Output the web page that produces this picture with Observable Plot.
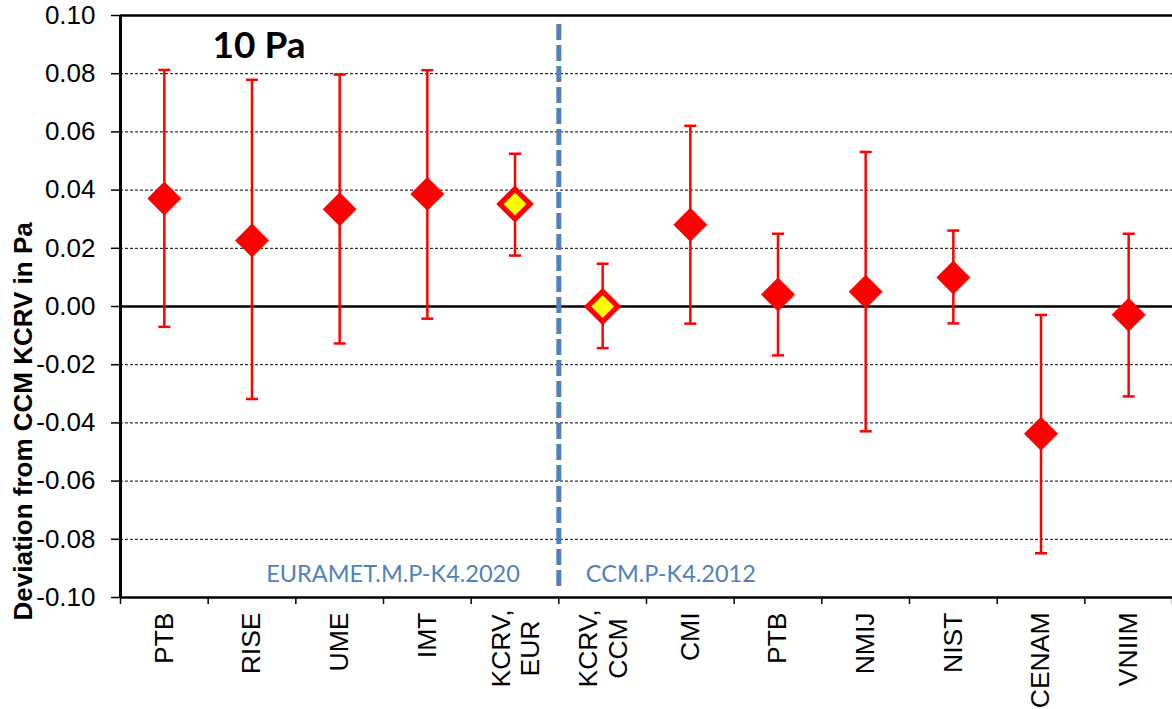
<!DOCTYPE html>
<html><head><meta charset="utf-8">
<script src="https://cdn.jsdelivr.net/npm/d3@7"></script>
<script src="https://cdn.jsdelivr.net/npm/@observablehq/plot@0.6"></script>
<style>body{margin:0;background:#fff;} svg{display:block}</style>
</head><body><div id="chart"></div>
<script>
// ---- data ----
const categories = ["PTB", "RISE", "UME", "IMT", "KCRV,\nEUR", "KCRV,\nCCM", "CMI", "PTB", "NMIJ", "NIST", "CENAM", "VNIIM"];
const groups = ["EURAMET", "EURAMET", "EURAMET", "EURAMET", "EURAMET", "CCM", "CCM", "CCM", "CCM", "CCM", "CCM", "CCM"];
const values = [0.0371, 0.0227, 0.0334, 0.0387, 0.0352, 0.0000, 0.0281, 0.0041, 0.0051, 0.0100, -0.0437, -0.0028];
const upper  = [0.0813, 0.0779, 0.0797, 0.0812, 0.0525, 0.0147, 0.0621, 0.0250, 0.0531, 0.0261, -0.0029, 0.0250];
const lower  = [-0.0070, -0.0318, -0.0127, -0.0042, 0.0175, -0.0143, -0.0059, -0.0168, -0.0429, -0.0058, -0.0848, -0.0309];
const isReference = [false, false, false, false, true, true, false, false, false, false, false, false];
const yTicks = [-0.10, -0.08, -0.06, -0.04, -0.02, 0.00, 0.02, 0.04, 0.06, 0.08, 0.10];
const groupLabels = ["EURAMET.M.P-K4.2020", "CCM.P-K4.2012"];
const panelTitle = "10 Pa";
const yTitle = "Deviation from CCM KCRV in Pa";

// ---- derived table ----
const data = categories.map((c, i) => ({
  pos: i + 0.5, label: c, value: values[i], hi: upper[i], lo: lower[i],
  ref: isReference[i], multi: c.includes("\n")
}));
const divider = groups.filter(g => g === groups[0]).length;
const [yMin, yMax] = d3.extent(yTicks);
const gridTicks = yTicks.filter(t => Math.abs(t) > 1e-9 && Math.abs(Math.abs(t) - yMax) > 1e-9);

const RED = "#FF0000", BLUE = "#4F81BD";
const capSymbol = { draw(ctx) { ctx.moveTo(-6, 0); ctx.lineTo(6, 0); } };

const chart = Plot.plot({
  width: 1172, height: 709,
  marginLeft: 120, marginRight: 0, marginTop: 15, marginBottom: 112,
  x: { domain: [0, categories.length], axis: null },
  y: { domain: [yMin, yMax], axis: null },
  style: { fontFamily: "'Liberation Sans', Arial, sans-serif", fontSize: "26px", color: "black", background: "white", overflow: "visible" },
  marks: [
    Plot.gridY(gridTicks, { stroke: "black", strokeOpacity: 1, strokeWidth: 1, strokeDasharray: "3,2" }),
    Plot.axisY({ ticks: yTicks, tickSize: 9, tickPadding: 16, tickFormat: d => d.toFixed(2), label: null, fontSize: 26, strokeWidth: 1.5 }),
    Plot.axisX({ ticks: d3.range(categories.length + 1), tickSize: 7, tickFormat: () => "", label: null, strokeWidth: 1.5 }),
    Plot.ruleY([yMin, yMax], { stroke: "black", strokeWidth: 2.5 }),
    Plot.ruleX([0], { stroke: "black", strokeWidth: 3 }),
    Plot.ruleY([0], { stroke: "black", strokeWidth: 2.5 }),
    Plot.ruleX([divider], { stroke: BLUE, strokeWidth: 5, strokeDasharray: "16,5", insetTop: 9, insetBottom: 7 }),
    Plot.ruleX(data, { x: "pos", y1: "lo", y2: "hi", stroke: RED, strokeWidth: 2.5 }),
    Plot.dot(data, { x: "pos", y: "hi", symbol: capSymbol, fill: "none", stroke: RED, strokeWidth: 2.5 }),
    Plot.dot(data, { x: "pos", y: "lo", symbol: capSymbol, fill: "none", stroke: RED, strokeWidth: 2.5 }),
    Plot.dot(data.filter(d => !d.ref), { x: "pos", y: "value", symbol: "diamond2", r: 15.3, fill: RED }),
    Plot.dot(data.filter(d => d.ref), { x: "pos", y: "value", symbol: "diamond2", r: 13.6, fill: "#FFFF00", stroke: RED, strokeWidth: 5.2, strokeLinejoin: "miter" }),
    // category labels
    Plot.text(data.filter(d => !d.multi), { x: "pos", text: "label", frameAnchor: "bottom", rotate: -90, textAnchor: "end", lineAnchor: "middle", dy: 15, fontSize: 26.5, fill: "black" }),
    Plot.text(data.filter(d => d.multi), { x: "pos", text: "label", frameAnchor: "bottom", rotate: -90, textAnchor: "middle", lineAnchor: "middle", lineHeight: 1.12, dy: 51, fontSize: 26.5, fill: "black" }),
    // group labels
    Plot.text([groupLabels[0]], { x: () => divider, text: d => d, frameAnchor: "bottom", textAnchor: "end", lineAnchor: "middle", dx: -39, dy: -23, fill: BLUE, fontFamily: "Lato", fontSize: 23.5 }),
    Plot.text([groupLabels[1]], { x: () => divider, text: d => d, frameAnchor: "bottom", textAnchor: "start", lineAnchor: "middle", dx: 27, dy: -23, fill: BLUE, fontFamily: "Lato", fontSize: 23.5 }),
    // panel title
    Plot.text([panelTitle], { text: d => d, frameAnchor: "top-left", textAnchor: "start", lineAnchor: "middle", dx: 92, dy: 31, fontFamily: "Lato", fontWeight: "bold", fontSize: 37, fill: "black" }),
    // y title
    Plot.text([yTitle], { text: d => d, frameAnchor: "bottom-left", rotate: -90, textAnchor: "start", lineAnchor: "middle", dx: -97, dy: 23, fontWeight: "bold", fontSize: 26, fill: "black" })
  ]
});
document.getElementById("chart").appendChild(chart);
</script>
</body></html>
